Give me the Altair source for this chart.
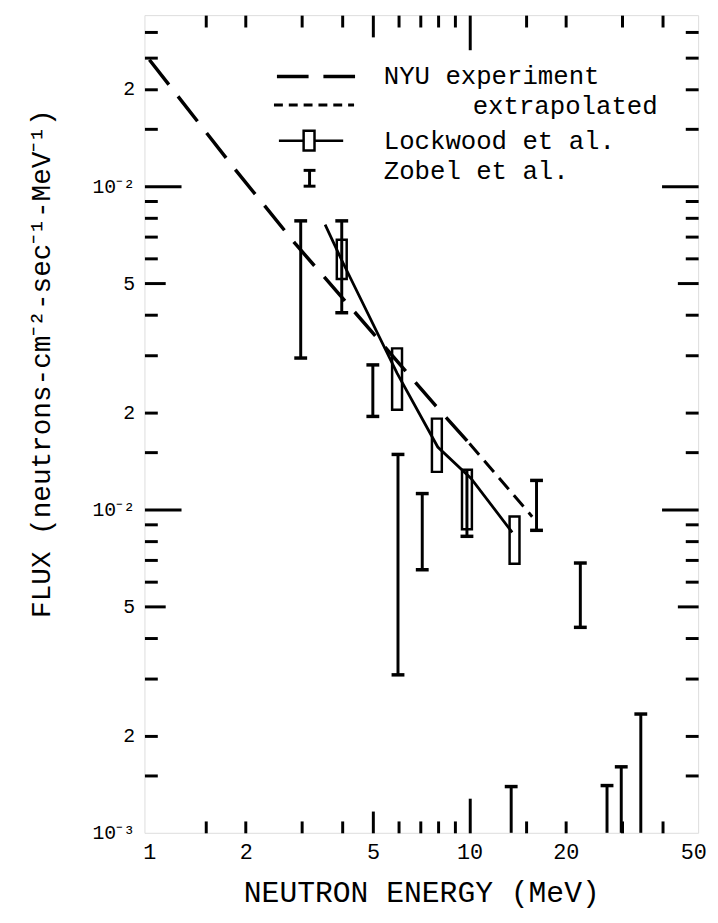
import altair as alt
import pandas as pd

# ---------------- data ----------------
# NYU experiment (measured part, long dashes)
nyu_E = [1.0, 1.81, 2.87, 4.37, 7.85, 10.0]
nyu_F = [0.246, 0.116, 0.066, 0.0409, 0.0209, 0.0160]
# NYU extrapolated (short dashes)
ext_E = [10.0, 15.7]
ext_F = [0.0160, 0.0095]
# Lockwood et al. - solid line
lock_line_E = [3.54, 3.99, 5.94, 7.96, 10.1, 13.6]
lock_line_F = [0.076, 0.059, 0.0264, 0.0156, 0.0125, 0.0085]
# Lockwood et al. - boxes
lock_E = [3.99, 5.94, 7.91, 9.82, 13.83]
lock_lo = [0.0516, 0.02035, 0.01307, 0.00869, 0.00679]
lock_hi = [0.0683, 0.0315, 0.0191, 0.01326, 0.00951]
# Lockwood et al. - error bars
lock_err_E = [3.99, 9.82]
lock_err_lo = [0.0406, 0.00826]
lock_err_hi = [0.0781, 0.01326]
# Zobel et al. - error bars
zob_E = [2.97, 4.99, 5.98, 7.12, 16.2, 22.2, 13.5, 26.9, 29.8, 34.3]
zob_lo = [0.0294, 0.0194, 0.00308, 0.00651, 0.00862, 0.00432, 0.001, 0.001, 0.001, 0.001]
zob_hi = [0.0781, 0.0280, 0.0148, 0.0112, 0.0123, 0.00683, 0.00139, 0.0014, 0.0016, 0.00233]

# axis ticks and labels
x_tick_values = [1.5, 2, 3, 4, 5, 6, 7, 8, 9, 10, 15, 20, 30, 40]
x_label_values = [1, 2, 5, 10, 20, 50]
y_tick_values = [0.0015, 0.002, 0.003, 0.004, 0.005, 0.006, 0.007, 0.008, 0.009, 0.01,
                 0.015, 0.02, 0.03, 0.04, 0.05, 0.06, 0.07, 0.08, 0.09, 0.1,
                 0.15, 0.2, 0.25, 0.3]
y_label_values = [0.001, 0.002, 0.005, 0.01, 0.02, 0.05, 0.1, 0.2]
y_label_texts = ["10⁻³", "2", "5", "10⁻²", "2", "5", "10⁻²", "2"]

legend_labels = ["NYU experiment", "extrapolated", "Lockwood et al.", "Zobel et al."]
x_title = "NEUTRON ENERGY (MeV)"
y_title = "FLUX (neutrons-cm⁻²-sec⁻¹-MeV⁻¹)"

# ---------------- chart ----------------
W, H = 560, 827
FONT = "Liberation Mono"
xscale = alt.Scale(type="log", domain=[1, 50], nice=False)
yscale = alt.Scale(type="log", domain=[0.001, 0.338], nice=False)


def XY():
    return dict(x=alt.X("E:Q", scale=xscale, axis=None),
                y=alt.Y("F:Q", scale=yscale, axis=None))


nyu_df = pd.DataFrame({"E": nyu_E, "F": nyu_F})
ext_df = pd.DataFrame({"E": ext_E, "F": ext_F})
lline_df = pd.DataFrame({"E": lock_line_E, "F": lock_line_F})
box_df = pd.DataFrame({"E": lock_E, "F": lock_lo, "F2": lock_hi})
lerr_df = pd.DataFrame({"E": lock_err_E, "F": lock_err_lo, "F2": lock_err_hi})
zob_df = pd.DataFrame({"E": zob_E, "F": zob_lo, "F2": zob_hi})

# caps: Zobel top caps everywhere, bottom caps where the bar ends inside the plot
caps = [(e, h) for e, h in zip(zob_E, zob_hi)]
caps += [(e, l) for e, l in zip(zob_E, zob_lo) if l > 0.00101]
# Lockwood caps where the error bar extends beyond the box
for e, l, h in zip(lock_err_E, lock_err_lo, lock_err_hi):
    i = lock_E.index(e)
    if h > lock_hi[i] * 1.01:
        caps.append((e, h))
    if l < lock_lo[i] * 0.99:
        caps.append((e, l))
caps_df = pd.DataFrame(caps, columns=["E", "F"])

nyu = alt.Chart(nyu_df).mark_line(color="black", strokeWidth=3.5, strokeDash=[32, 15]).encode(**XY())
ext = alt.Chart(ext_df).mark_line(color="black", strokeWidth=3, strokeDash=[15, 8]).encode(**XY())
lline = alt.Chart(lline_df).mark_line(color="black", strokeWidth=2.8).encode(**XY())

def ranged(df):
    d = XY()
    d["y2"] = alt.Y2("F2:Q")
    return alt.Chart(df).encode(**d)

lerr = ranged(lerr_df).mark_rule(color="black", strokeWidth=3)
zob = ranged(zob_df).mark_rule(color="black", strokeWidth=3)
boxes = ranged(box_df).mark_bar(size=10, fillOpacity=0, fill="white", stroke="black", strokeWidth=2.5)
capm = alt.Chart(caps_df).mark_tick(orient="horizontal", size=13, thickness=3.5, color="black",
                                    opacity=1).encode(**XY())

# ---------------- axes ----------------
carrier_df = pd.DataFrame({"E": [1.0], "F": [0.01]})
y_map = "{" + ", ".join("'%s': '%s'" % (repr(v), t) for v, t in zip(y_label_values, y_label_texts)) + "}"

label_axes = alt.Chart(carrier_df).mark_point(opacity=0).encode(
    x=alt.X("E:Q", scale=xscale, axis=alt.Axis(
        orient="bottom", values=x_label_values, format="d", ticks=False, tickSize=0,
        domain=False, grid=False, labelFont=FONT, labelFontSize=22, labelColor="black",
        labelPadding=9, labelFlush=False, labelOverlap=False,
        title=x_title, titleFont=FONT, titleFontSize=30, titleFontWeight="normal",
        titleColor="black", titleX=W / 2, titleY=60, titleBaseline="middle", titleAlign="center")),
    y=alt.Y("F:Q", scale=yscale, axis=alt.Axis(
        orient="left", values=y_label_values, labelExpr=y_map + "[''+datum.value]",
        ticks=False, tickSize=0, domain=False, grid=False, labelFont=FONT, labelFontSize=20,
        labelColor="black", labelPadding=10, labelFlush=False, labelOverlap=False,
        labelBaseline="middle",
        title=y_title, titleFont=FONT, titleFontSize=28, titleFontWeight="normal",
        titleColor="black", titleX=-104, titleY=352, titleAngle=270,
        titleBaseline="middle", titleAlign="center")),
)

x_ts = alt.ExprRef("datum.value == 10 ? 35 : (datum.value == 5 ? 22 : 12)")
y_ts = alt.ExprRef("(datum.value == 0.01 || datum.value == 0.1) ? 37 : "
                   "((datum.value == 0.005 || datum.value == 0.05) ? 21 : 13)")


def tick_axis(orient, values, size, offset):
    return alt.Axis(orient=orient, offset=offset, values=values, labels=False, domain=False,
                    ticks=True, tickSize=size, tickWidth=3, tickColor="black", grid=False,
                    title=None)

# inward ticks on the bottom and left edges
ticks_a = alt.Chart(carrier_df).mark_point(opacity=0).encode(
    x=alt.X("E:Q", scale=xscale, axis=tick_axis("top", x_tick_values, x_ts, -H)),
    y=alt.Y("F:Q", scale=yscale, axis=tick_axis("right", y_tick_values, y_ts, -W)),
)
# inward ticks on the top and right edges
ticks_b = alt.Chart(carrier_df).mark_point(opacity=0).encode(
    x=alt.X("E:Q", scale=xscale, axis=tick_axis("bottom", x_tick_values, x_ts, -H)),
    y=alt.Y("F:Q", scale=yscale, axis=tick_axis("left", y_tick_values, y_ts, -W)),
)

# ---------------- legend (drawn in the upper part of the plot) ----------------
one = pd.DataFrame({"k": [0]})
leg = [
    alt.Chart(one).mark_rule(color="black", strokeWidth=3.5, strokeDash=[32, 15]).encode(
        x=alt.value(134), x2=alt.value(214), y=alt.value(62)),
    alt.Chart(one).mark_rule(color="black", strokeWidth=3, strokeDash=[9, 6]).encode(
        x=alt.value(131), x2=alt.value(212), y=alt.value(91)),
    alt.Chart(one).mark_rule(color="black", strokeWidth=2.5).encode(
        x=alt.value(136), x2=alt.value(201), y=alt.value(127)),
    alt.Chart(one).mark_rect(fill="white", stroke="black", strokeWidth=2.5).encode(
        x=alt.value(161), x2=alt.value(172), y=alt.value(117), y2=alt.value(137)),
    alt.Chart(one).mark_rule(color="black", strokeWidth=3).encode(
        x=alt.value(167), y=alt.value(157), y2=alt.value(173)),
    alt.Chart(one).mark_rule(color="black", strokeWidth=3).encode(
        x=alt.value(161), x2=alt.value(173), y=alt.value(157)),
    alt.Chart(one).mark_rule(color="black", strokeWidth=3).encode(
        x=alt.value(161), x2=alt.value(173), y=alt.value(173)),
]
text_pos = [(242, 62), (332, 92), (242, 127), (242, 158)]
for lab, (px, py) in zip(legend_labels, text_pos):
    leg.append(alt.Chart(pd.DataFrame({"t": [lab]})).mark_text(
        align="left", baseline="middle", font=FONT, fontSize=26, color="black").encode(
        x=alt.value(px), y=alt.value(py), text="t:N"))

chart = alt.layer(
    label_axes, ticks_a, ticks_b,
    nyu, ext, lline, lerr, zob, capm, boxes, *leg
).resolve_axis(x="independent", y="independent").properties(
    width=W, height=H,
    autosize=alt.AutoSizeParams(type="none"),
    padding={"left": 138, "top": 2, "right": 12, "bottom": 86},
).configure_view(stroke="black", strokeWidth=3).configure(background="white")

chart.save("out.html", embed_options={"renderer": "svg", "actions": False})
